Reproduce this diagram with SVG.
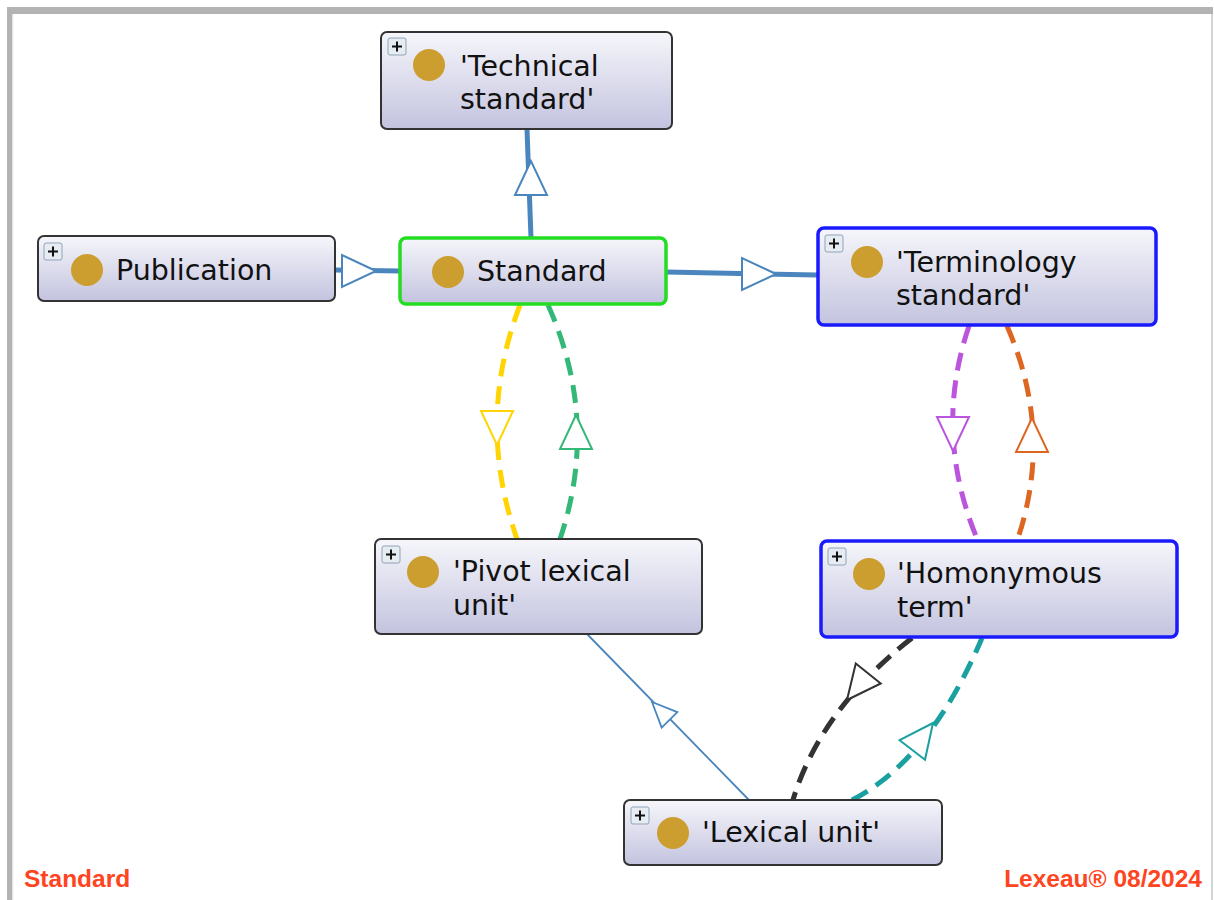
<svg xmlns="http://www.w3.org/2000/svg" xmlns:xlink="http://www.w3.org/1999/xlink" width="1214" height="900" viewBox="0 0 1214 900">
<style>
.node{fill:url(#ng);stroke:#333;stroke-width:2}
.sel{stroke:#22dd22;stroke-width:3.5}
.blu{stroke:#1a1aff;stroke-width:3.5}
.dot{fill:#cc9e30}
.lbl{font-family:"DejaVu Sans",sans-serif;font-size:28.5px;fill:#111}
.pbox{fill:#e6ecf2;stroke:#8fa3b8;stroke-width:1}
.pl{stroke:#111;stroke-width:2}
.isa{fill:none;stroke:#4a86bd;stroke-width:5}
.dash{fill:none;stroke-width:5;stroke-dasharray:18 10}
.foot{font-family:"Liberation Sans",Arial,sans-serif;font-weight:bold;font-size:24.5px;fill:#ff4422}
</style>
<defs>
<linearGradient id="ng" x1="0" y1="0" x2="0" y2="1">
<stop offset="0" stop-color="#f6f6fb"/>
<stop offset="1" stop-color="#c3c3df"/>
</linearGradient>
<path id="tri" d="M0,0 L-34,-16 L-34,16 Z" fill="#fff" stroke-width="2"/>
<path id="tris" d="M0,0 L-25,-11 L-25,11 Z" fill="#fff" stroke-width="1.8"/>
<g id="plus">
<rect class="pbox" x="0" y="0" width="18" height="17" rx="2"/>
<line class="pl" x1="4" y1="8.5" x2="14" y2="8.5"/>
<line class="pl" x1="9" y1="3.5" x2="9" y2="13.5"/>
</g>
</defs>
<rect x="0" y="0" width="1214" height="900" fill="#fff"/>
<rect x="7" y="7" width="1206" height="7" fill="#b3b3b3"/>
<rect x="7" y="7" width="5" height="893" fill="#b3b3b3"/>
<rect x="12" y="14" width="1.2" height="886" fill="#e2e2e2"/>
<rect x="1211" y="14" width="2" height="886" fill="#d4d4d4"/>

<g id="connectors">
<line class="isa" x1="531" y1="238" x2="527" y2="129"/>
<use xlink:href="#tri" transform="translate(531,161) rotate(-90)" stroke="#4a86bd"/>
<line class="isa" x1="400" y1="271" x2="335" y2="270"/>
<use xlink:href="#tri" transform="translate(376,271)" stroke="#4a86bd"/>
<line class="isa" x1="666" y1="272" x2="818" y2="275"/>
<use xlink:href="#tri" transform="translate(776,274)" stroke="#4a86bd"/>

<path class="dash" d="M520,305 Q475.5,421 517,539" stroke="#ffd400"/>
<use xlink:href="#tri" transform="translate(497,445) rotate(90)" stroke="#ffd400"/>
<path class="dash" d="M548,305 Q600,421 560,539" stroke="#33b877"/>
<use xlink:href="#tri" transform="translate(576,415) rotate(-90)" stroke="#33b877"/>

<path class="dash" d="M969,326 Q932.5,433 978,541" stroke="#bb55dd"/>
<use xlink:href="#tri" transform="translate(953,451) rotate(90)" stroke="#bb55dd"/>
<path class="dash" d="M1007,326 Q1054,433 1017,541" stroke="#dd6622"/>
<use xlink:href="#tri" transform="translate(1032,418) rotate(-90)" stroke="#dd6622"/>

<line x1="587" y1="634" x2="749" y2="800" stroke="#4a86bd" stroke-width="1.8"/>
<use xlink:href="#tris" transform="translate(652,702) rotate(-134.5)" stroke="#4a86bd"/>

<path class="dash" d="M912,638 Q820,710 793,800" stroke="#333"/>
<use xlink:href="#tri" transform="translate(847,700) rotate(128.7)" stroke="#333"/>
<path class="dash" d="M852,800 Q930,760 982,638" stroke="#1aa0a0"/>
<use xlink:href="#tri" transform="translate(933,723) rotate(-52.5)" stroke="#1aa0a0"/>
</g>

<g id="n-technical">
<rect class="node" x="381" y="32" width="291" height="97" rx="6"/>
<use xlink:href="#plus" x="388" y="38"/>
<circle class="dot" cx="429" cy="65" r="16"/>
<text class="lbl" x="460" y="76">'Technical</text>
<text class="lbl" x="460" y="109">standard'</text>
</g>

<g id="n-publication">
<rect class="node" x="38" y="236" width="297" height="65" rx="6"/>
<use xlink:href="#plus" x="44" y="243"/>
<circle class="dot" cx="87" cy="270" r="16"/>
<text class="lbl" x="116" y="280">Publication</text>
</g>

<g id="n-standard">
<rect class="node sel" x="400" y="238" width="266" height="66" rx="6"/>
<circle class="dot" cx="448" cy="272" r="16"/>
<text class="lbl" x="477" y="281">Standard</text>
</g>

<g id="n-terminology">
<rect class="node blu" x="818" y="228" width="338" height="97" rx="6"/>
<use xlink:href="#plus" x="825" y="235"/>
<circle class="dot" cx="867" cy="262" r="16"/>
<text class="lbl" x="896" y="272">'Terminology</text>
<text class="lbl" x="896" y="305">standard'</text>
</g>

<g id="n-pivot">
<rect class="node" x="375" y="539" width="327" height="95" rx="6"/>
<use xlink:href="#plus" x="382" y="546"/>
<circle class="dot" cx="423" cy="572" r="16"/>
<text class="lbl" x="453" y="581">'Pivot lexical</text>
<text class="lbl" x="453" y="615">unit'</text>
</g>

<g id="n-homonymous">
<rect class="node blu" x="821" y="541" width="356" height="96" rx="6"/>
<use xlink:href="#plus" x="828" y="548"/>
<circle class="dot" cx="869" cy="574" r="16"/>
<text class="lbl" x="897" y="583">'Homonymous</text>
<text class="lbl" x="897" y="617">term'</text>
</g>

<g id="n-lexical">
<rect class="node" x="624" y="800" width="318" height="65" rx="6"/>
<use xlink:href="#plus" x="631" y="807"/>
<circle class="dot" cx="673" cy="833" r="16"/>
<text class="lbl" x="702" y="842">'Lexical unit'</text>
</g>

<text class="foot" x="24" y="887">Standard</text>
<text class="foot" x="1202" y="887" text-anchor="end">Lexeau® 08/2024</text>
</svg>
